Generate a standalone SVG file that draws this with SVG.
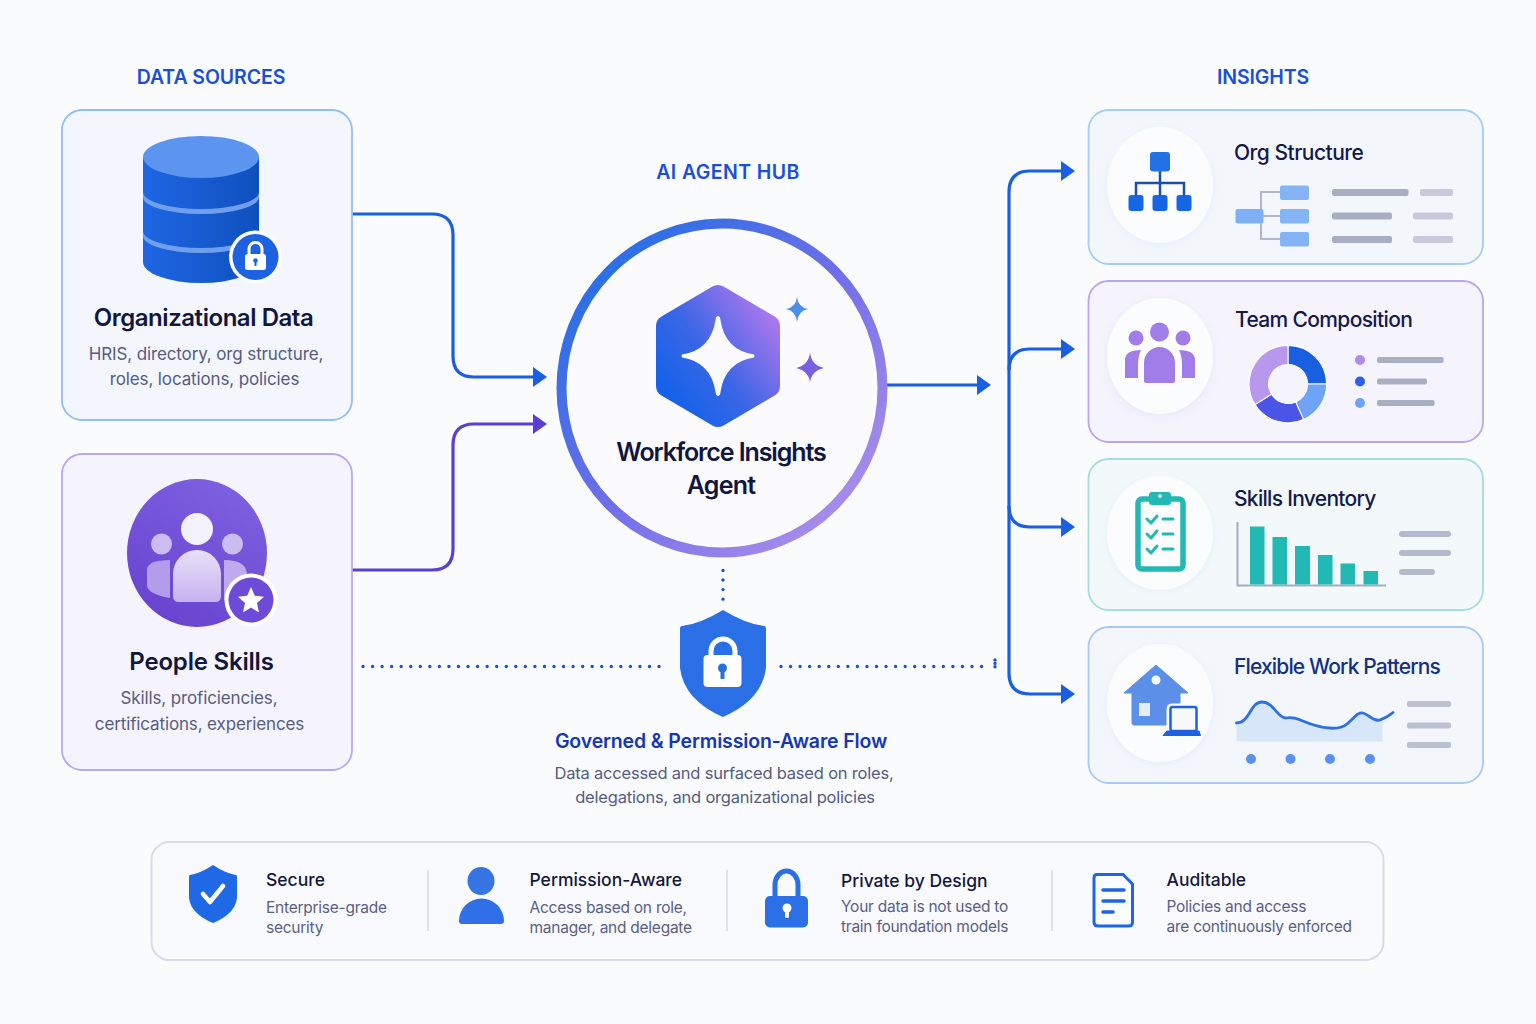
<svg xmlns="http://www.w3.org/2000/svg" width="1536" height="1024" viewBox="0 0 1536 1024">
<style>
text{font-family:Inter,"Noto Sans","Liberation Sans",sans-serif}
.hd{font-size:19.5px;font-weight:600;fill:#1a4fd6;text-anchor:middle;letter-spacing:-.1px}
.t1{font-size:24px;font-weight:600;fill:#12163f;text-anchor:middle;letter-spacing:-.45px}
.d1{font-size:17px;fill:#565c80;text-anchor:middle;letter-spacing:-.13px}
.t2{font-size:21px;font-weight:500;fill:#14194a;letter-spacing:-.5px}
.t3{font-size:17.5px;font-weight:500;fill:#14173d}
.d3{font-size:15.5px;fill:#5a6084;letter-spacing:-.25px}
.card{stroke-width:1.8}
.soft{fill:#fbfcfe;filter:url(#sh)}
.bar{fill:#a9afc3}.bar2{fill:#c6cadb}
.conn{fill:none;stroke-width:3.2}
.dot{fill:none;stroke:#1a50d8;stroke-width:3.4;stroke-linecap:round;stroke-dasharray:0 9.55}
.teal{fill:#22b8b4}
.white{fill:#fff}
</style>
<defs>
<linearGradient id="ring" x1="0.1" y1="0.15" x2="0.85" y2="0.9"><stop offset="0" stop-color="#2a6fe6"/><stop offset=".5" stop-color="#6f6ee8"/><stop offset="1" stop-color="#a78ceb"/></linearGradient>
<linearGradient id="hex" gradientUnits="userSpaceOnUse" x1="665" y1="405" x2="780" y2="320"><stop offset="0" stop-color="#0f62ea"/><stop offset=".45" stop-color="#3a66e6"/><stop offset="1" stop-color="#b078ee"/></linearGradient>
<linearGradient id="cyl" x1="0" y1="0" x2="1" y2="0"><stop offset="0" stop-color="#1f66e4"/><stop offset="1" stop-color="#0f50bd"/></linearGradient>
<linearGradient id="pur" x1="0.2" y1="1" x2="0.7" y2="0"><stop offset="0" stop-color="#6742cf"/><stop offset="1" stop-color="#7d60e0"/></linearGradient>
<linearGradient id="pb" x1="0" y1="0" x2="0" y2="1"><stop offset="0" stop-color="#e8e0f8"/><stop offset="1" stop-color="#c6b2ef"/></linearGradient>
<filter id="sh" x="-20%" y="-20%" width="140%" height="140%"><feDropShadow dx="0" dy="2" stdDeviation="4" flood-color="#8aa0e0" flood-opacity=".13"/></filter>
<marker id="ab" markerUnits="userSpaceOnUse" markerWidth="16" markerHeight="22" refX="1" refY="11" orient="auto"><path d="M1 1 L15 11 L1 21Z" fill="#1a5fe0"/></marker>
<marker id="ap" markerUnits="userSpaceOnUse" markerWidth="16" markerHeight="22" refX="1" refY="11" orient="auto"><path d="M1 1 L15 11 L1 21Z" fill="#5b3fd0"/></marker>
</defs>
<rect width="1536" height="1024" fill="#fafbfd"/>

<g id="headings">
<text class="hd" x="211" y="84">DATA SOURCES</text>
<text class="hd" style="letter-spacing:.4px" x="728" y="179">AI AGENT HUB</text>
<text class="hd" x="1263" y="84">INSIGHTS</text>
</g>

<g id="connectors">
<path class="conn" stroke="#1a5fe0" marker-end="url(#ab)" d="M352 214H432Q453 214 453 235V356Q453 377 474 377H533"/>
<path class="conn" stroke="#5b3fd0" marker-end="url(#ap)" d="M352 570H432Q453 570 453 549V445Q453 424 474 424H533"/>
<path class="conn" stroke="#1a5fe0" marker-end="url(#ab)" d="M887 385H977"/>
<path class="conn" stroke="#1a5fe0" marker-end="url(#ab)" d="M1009 673V192Q1009 171 1030 171H1061"/>
<path class="conn" stroke="#1a5fe0" marker-end="url(#ab)" d="M1009 370Q1009 349 1030 349H1061"/>
<path class="conn" stroke="#1a5fe0" marker-end="url(#ab)" d="M1009 506Q1009 527 1030 527H1061"/>
<path class="conn" stroke="#1a5fe0" marker-end="url(#ab)" d="M1009 673Q1009 694 1030 694H1061"/>
<path class="dot" d="M363 666.500H664"/>
<path class="dot" d="M781 666.500H986"/>
<path class="dot" style="stroke-dasharray:0 3.4" d="M995 660V667"/>
<path class="dot" d="M723 570.500V600"/>
</g>

<g id="organizational-data">
<rect class="card" x="62" y="110" width="290" height="310" rx="20" fill="#f3f6fc" stroke="#93bdf5"/>
<path d="M143 157V262A58 21 0 0 0 259 262V157Z" fill="url(#cyl)"/>
<path d="M143 192A58 17 0 0 0 259 192V197A58 17 0 0 1 143 197Z" fill="#6f9fee"/>
<path d="M143 231A58 17 0 0 0 259 231V236A58 17 0 0 1 143 236Z" fill="#6f9fee"/>
<ellipse cx="201" cy="157" rx="58" ry="21" fill="#5b95f0"/>
<circle cx="255.500" cy="257" r="26.500" fill="#fff"/><circle cx="255.500" cy="257" r="23" fill="#1c62e2"/>
<rect x="245" y="254" width="21" height="16" rx="2.500" class="white"/>
<path d="M249 255V249A6.500 6.500 0 0 1 262 249V255" fill="none" stroke="#fff" stroke-width="3"/>
<circle cx="255.500" cy="260.500" r="2.300" fill="#1c62e2"/><rect x="254.500" y="261" width="2" height="5" fill="#1c62e2"/>
<text class="t1" x="203.500" y="326">Organizational Data</text>
<text class="d1" x="206" y="360">HRIS, directory, org structure,</text>
<text class="d1" x="204.500" y="385">roles, locations, policies</text>
</g>

<g id="people-skills">
<rect class="card" x="62" y="454" width="290" height="316" rx="20" fill="#f5f4fc" stroke="#b9a8ee"/>
<ellipse cx="197" cy="553" rx="70" ry="74" fill="url(#pur)"/>
<circle cx="161.500" cy="544" r="10.500" fill="#cdbcf2"/><circle cx="232.500" cy="544" r="10.500" fill="#cdbcf2"/>
<path d="M147 570Q147 560 170 560V598Q147 594 147 585Z" fill="#b39cea"/>
<path d="M224 560Q247 560 247 575V590L224 600Z" fill="#c0aaee"/>
<circle cx="197" cy="529" r="16" fill="#f3f1fc"/>
<path d="M173 574A24 24 0 0 1 221 574V596Q221 602 215 602H179Q173 602 173 596Z" fill="url(#pb)"/>
<circle cx="251" cy="600" r="26.500" fill="#fff"/><circle cx="251" cy="600" r="22.500" fill="#6d4bd6"/>
<path d="M251 587L254.800 595.800 264 596.700 257 603 259 612.500 251 607.500 243 612.500 245 603 238 596.700 247.200 595.800Z" fill="#fff"/>
<text class="t1" style="letter-spacing:-.2px" x="201.500" y="670">People Skills</text>
<text class="d1" x="199" y="704">Skills, proficiencies,</text>
<text class="d1" x="199.500" y="730">certifications, experiences</text>
</g>

<g id="workforce-insights-agent">
<ellipse cx="722" cy="388" rx="160.500" ry="164.500" fill="#fbfbfe" stroke="url(#ring)" stroke-width="10"/>
<path d="M718 296L769 326V386L718 416L667 386V326Z" fill="url(#hex)" stroke="url(#hex)" stroke-width="22" stroke-linejoin="round"/>
<path d="M718 316Q720 316 720.500 320Q725 350 754 354.500Q755 356 754 357.500Q725 362 720.500 392Q720 396 718 396Q716 396 715.500 392Q711 362 682 357.500Q681 356 682 354.500Q711 350 715.500 320Q716 316 718 316Z" fill="#fbfbfe"/>
<path d="M797 297Q798 307 808 309Q798 311 797 322Q796 311 786 309Q796 307 797 297Z" fill="#4a8eea"/>
<path d="M810 352Q811 365 824 368Q811 371 810 383Q809 371 796 368Q809 365 810 352Z" fill="#7a5fe0"/>
<text class="t1" style="font-size:25px;letter-spacing:-1.1px" x="721" y="461">Workforce Insights</text>
<text class="t1" style="font-size:25px;letter-spacing:-.8px" x="721" y="494">Agent</text>
</g>

<g id="governed-flow">
<path d="M723 610Q700 624 682 626Q680 626 680 629V668Q684 700 723 717Q762 700 766 668V629Q766 626 764 626Q746 624 723 610Z" fill="#2a6fe6"/>
<path d="M711 657V651A12 12 0 0 1 735 651V657" fill="none" stroke="#fff" stroke-width="5"/>
<rect x="703.500" y="655" width="38" height="32" rx="4" fill="#fff"/>
<circle cx="722.500" cy="668" r="4.500" fill="#2a6fe6"/><rect x="720.500" y="670" width="4" height="9" fill="#2a6fe6"/>
<text x="721" y="748" text-anchor="middle" style="font-size:19.5px;font-weight:600;fill:#1537b5;letter-spacing:-.15px">Governed &amp; Permission-Aware Flow</text>
<text class="d1" style="font-size:16.5px;letter-spacing:-.2px" x="724" y="779">Data accessed and surfaced based on roles,</text>
<text class="d1" style="font-size:16.5px;letter-spacing:-.2px" x="725" y="803">delegations, and organizational policies</text>
</g>

<g id="org-structure">
<rect class="card" x="1088.500" y="110" width="394.500" height="154" rx="20" fill="#f3f7fc" stroke="#a5cdf5"/>
<ellipse class="soft" cx="1160" cy="185" rx="53" ry="58"/>
<path d="M1160 171V196M1136 196V183H1184V196" fill="none" stroke="#1d4fa8" stroke-width="2.500"/>
<rect x="1150" y="152" width="20" height="19.500" rx="3" fill="#2272e6"/>
<rect x="1128.500" y="195" width="15" height="16" rx="3" fill="#1566e4"/>
<rect x="1152.500" y="195" width="15" height="16" rx="3" fill="#1566e4"/>
<rect x="1176.500" y="195" width="15" height="16" rx="3" fill="#1566e4"/>
<text class="t2" x="1234" y="160">Org Structure</text>
<path d="M1280 192H1261V239H1280M1263 216H1280" fill="none" stroke="#b0b7ca" stroke-width="2"/>
<rect x="1235.500" y="209" width="28" height="14.500" rx="2" fill="#7fb0f6"/>
<rect x="1280" y="185.500" width="29" height="14.500" rx="2" fill="#84b3f6"/>
<rect x="1280" y="209" width="29" height="14.500" rx="2" fill="#84b3f6"/>
<rect x="1280" y="232" width="29" height="14.500" rx="2" fill="#84b3f6"/>
<rect class="bar" x="1332" y="189" width="76.500" height="7" rx="2"/><rect class="bar2" x="1420" y="189" width="33" height="7" rx="2"/>
<rect class="bar" x="1332" y="212.500" width="60" height="7" rx="2"/><rect class="bar2" x="1413" y="212.500" width="40" height="7" rx="2"/>
<rect class="bar" x="1332" y="236" width="60" height="7" rx="2"/><rect class="bar2" x="1413" y="236" width="40" height="7" rx="2"/>
</g>

<g id="team-composition">
<rect class="card" x="1088.500" y="281" width="394.500" height="161" rx="20" fill="#f5f3fc" stroke="#bba6ec"/>
<ellipse class="soft" cx="1160" cy="356" rx="53" ry="58"/>
<circle cx="1159.500" cy="332" r="9.500" fill="#a07de8"/><circle cx="1136" cy="338" r="7.500" fill="#a07de8"/><circle cx="1183" cy="338" r="7.500" fill="#a07de8"/>
<path d="M1125 378V360Q1125 350 1141 350Q1138 356 1138 365V378Z" fill="#a07de8"/>
<path d="M1195 378V360Q1195 350 1179 350Q1182 356 1182 365V378Z" fill="#a07de8"/>
<path d="M1144 363A15.500 16 0 0 1 1175 363V381Q1175 383 1173 383H1146Q1144 383 1144 381Z" fill="#a07de8"/>
<text class="t2" style="letter-spacing:-.65px" x="1235" y="327">Team Composition</text>
<g stroke="#fff" stroke-width="1" transform="translate(1288 384) scale(1.03) translate(-1288 -384)">
<path d="M1288 346.500A37.500 37.500 0 0 1 1325.500 384H1307A19 19 0 0 0 1288 365Z" fill="#1a5fe0"/>
<path d="M1325.500 384A37.500 37.500 0 0 1 1303 418.500L1295.500 401.500A19 19 0 0 0 1307 384Z" fill="#6ea3f5"/>
<path d="M1303 418.500A37.500 37.500 0 0 1 1256 404L1272 394A19 19 0 0 0 1295.500 401.500Z" fill="#4a55e8"/>
<path d="M1256 404A37.500 37.500 0 0 1 1288 346.500V365A19 19 0 0 0 1272 394Z" fill="#b898ec"/>
</g>
<circle cx="1360" cy="360" r="5" fill="#b08ae8"/><circle cx="1360" cy="381.500" r="5" fill="#2a63e8"/><circle cx="1360" cy="403" r="5" fill="#6ea3f5"/>
<rect class="bar" x="1377" y="357" width="66.500" height="6" rx="2"/><rect class="bar" x="1377" y="378.500" width="50" height="6" rx="2"/><rect class="bar" x="1377" y="400" width="57.500" height="6" rx="2"/>
</g>

<g id="skills-inventory">
<rect class="card" x="1088.500" y="459" width="394.500" height="151" rx="20" fill="#f3f9fb" stroke="#a5dcdc"/>
<ellipse class="soft" cx="1160" cy="533" rx="53" ry="57"/>
<rect x="1138" y="499" width="45" height="70" rx="4" fill="none" stroke="#22b8b4" stroke-width="5.500"/>
<rect x="1149" y="492" width="22" height="13" rx="3" class="teal"/><circle cx="1160" cy="496" r="4" class="teal"/><circle cx="1160" cy="496" r="1.800" fill="#fff"/>
<path d="M1147 519L1151 523 1157 516M1147 534L1151 538 1157 531M1147 549L1151 553 1157 546" fill="none" stroke="#22b8b4" stroke-width="3" stroke-linecap="round" stroke-linejoin="round"/>
<path d="M1163 519H1173M1163 534H1173M1163 549H1173" stroke="#22b8b4" stroke-width="3" stroke-linecap="round"/>
<text class="t2" style="letter-spacing:-.7px" x="1234" y="506">Skills Inventory</text>
<path d="M1237.500 522V585.500H1386" fill="none" stroke="#a7adc0" stroke-width="2"/>
<rect class="teal" x="1250" y="526.500" width="14.500" height="58"/><rect class="teal" x="1272.500" y="537" width="14.500" height="47.500"/><rect class="teal" x="1295" y="546" width="15" height="38.500"/><rect class="teal" x="1318" y="555" width="14.500" height="29.500"/><rect class="teal" x="1340.500" y="563.500" width="14.500" height="21"/><rect class="teal" x="1363.500" y="571" width="14.500" height="13.500"/>
<rect class="bar" x="1399" y="531" width="52" height="6" rx="3" style="fill:#b4b9cc"/><rect class="bar" x="1399" y="550" width="52" height="6" rx="3" style="fill:#b4b9cc"/><rect class="bar" x="1399" y="569" width="36" height="6" rx="3" style="fill:#b4b9cc"/>
</g>

<g id="flexible-work-patterns">
<rect class="card" x="1088.500" y="627" width="394.500" height="156" rx="20" fill="#f3f7fc" stroke="#a9c9f3"/>
<ellipse class="soft" cx="1160" cy="703" rx="53" ry="59"/>
<path d="M1156 665L1188 693H1180V703H1172Q1166 703 1166 710V725H1134Q1132 725 1132 723V693H1124Z" fill="#5b8fe8" stroke="#5b8fe8" stroke-linejoin="round"/>
<circle cx="1156" cy="680" r="4.500" fill="#f7f9fd"/><rect x="1139" y="703" width="11" height="13" fill="#e6eefb"/>
<rect x="1170.500" y="707" width="26" height="24" rx="2" fill="#f7f9fd" stroke="#1d60e0" stroke-width="2.500"/>
<path d="M1167 731H1199L1200.500 735.500H1163Z" fill="#1d60e0" stroke="#1d60e0" stroke-linejoin="round"/>
<text class="t2" style="fill:#14307f;letter-spacing:-.85px" x="1234" y="674">Flexible Work Patterns</text>
<path d="M1236.500 723C1250 723 1250 702 1262 702C1274 702 1277 718 1286 718C1296 716 1302 722 1314 725C1326 729 1340 730 1347 724C1355 717 1358 712 1363 713C1370 715 1373 722 1380 720L1382.500 719V741.500H1236.500Z" fill="#d8e6f9"/>
<path d="M1236.500 723C1250 723 1250 702 1262 702C1274 702 1277 718 1286 718C1296 716 1302 722 1314 725C1326 729 1340 730 1347 724C1355 717 1358 712 1363 713C1370 715 1373 722 1380 720C1385 718 1389 716 1393 712.500" fill="none" stroke="#2f6fe6" stroke-width="2.800" stroke-linecap="round"/>
<circle cx="1251" cy="759" r="5" fill="#5a90ee"/><circle cx="1290.500" cy="759" r="5" fill="#5a90ee"/><circle cx="1330" cy="759" r="5" fill="#5a90ee"/><circle cx="1370" cy="759" r="5" fill="#5a90ee"/>
<rect class="bar" x="1407" y="701" width="44" height="6" rx="2" style="fill:#bcc1d2"/><rect class="bar" x="1407" y="722.500" width="44" height="6" rx="2" style="fill:#bcc1d2"/><rect class="bar" x="1407" y="742" width="44" height="6" rx="2" style="fill:#bcc1d2"/>
</g>

<g id="assurance-bar">
<rect x="151.500" y="842" width="1232" height="118" rx="18" fill="#f9fafd" stroke="#d8dcec" stroke-width="2"/>
<path d="M428 870V931M727 870V931M1052 870V931" stroke="#d6dae8" stroke-width="1.500"/>
</g>
<g id="secure">
<path d="M213 865Q201 873 190 875Q189 875 189 877V898Q191 914 213 923Q235 914 237 898V877Q237 875 236 875Q225 873 213 865Z" fill="#1f68e6"/>
<path d="M203 894L210 902 223 886" fill="none" stroke="#fff" stroke-width="4.500" stroke-linecap="round" stroke-linejoin="round"/>
<text class="t3" x="266" y="886">Secure</text>
<text class="d3" x="266" y="913">Enterprise-grade</text>
<text class="d3" x="266" y="933">security</text>
</g>
<g id="permission-aware">
<ellipse cx="481" cy="881" rx="13.500" ry="14" fill="#3674e4"/>
<path d="M459 921A22.500 22.500 0 0 1 504 921Q504 924 501 924H462Q459 924 459 921Z" fill="#2f70e8"/>
<text class="t3" x="529.500" y="886">Permission-Aware</text>
<text class="d3" x="529.500" y="913">Access based on role,</text>
<text class="d3" x="529.500" y="933">manager, and delegate</text>
</g>
<g id="private-by-design">
<path d="M775 898V885A11.500 14 0 0 1 798 885V898" fill="none" stroke="#2a6fe6" stroke-width="5"/>
<rect x="765" y="896" width="43" height="31.500" rx="5" fill="#2a6fe6"/>
<circle cx="787" cy="908" r="4.500" fill="#fff"/><rect x="785" y="909" width="4" height="9" rx="1.500" fill="#fff"/>
<text class="t3" x="841" y="887">Private by Design</text>
<text class="d3" x="841" y="912">Your data is not used to</text>
<text class="d3" x="841" y="932">train foundation models</text>
</g>
<g id="auditable">
<path d="M1097 874.500H1123L1132.500 884V922Q1132.500 926 1128.500 926H1098Q1094 926 1094 922V878Q1094 874.500 1097 874.500Z" fill="#fbfcfe" stroke="#1c66e6" stroke-width="3"/>
<path d="M1103 890H1124M1103 901H1124M1103 912H1113" stroke="#1c66e6" stroke-width="3.500" stroke-linecap="round"/>
<text class="t3" x="1166.500" y="886">Auditable</text>
<text class="d3" x="1166.500" y="912">Policies and access</text>
<text class="d3" x="1166.500" y="932">are continuously enforced</text>
</g>
</svg>
